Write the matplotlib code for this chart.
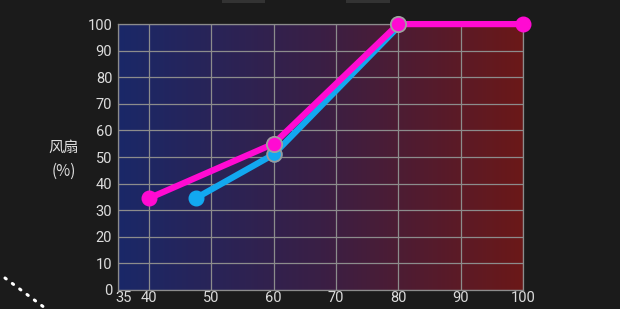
import matplotlib
matplotlib.use("Agg")
import matplotlib.pyplot as plt
import numpy as np
from matplotlib.colors import LinearSegmentedColormap
from matplotlib.lines import Line2D
from matplotlib.patches import Rectangle
import matplotlib.transforms as mtransforms

plt.rcParams['font.family'] = ['Roboto', 'Noto Sans CJK SC', 'DejaVu Sans']

# fan curve data
blue_x = [47.5, 60, 80]
blue_y = [34.5, 51, 99]
pink_x = [40, 60, 80, 100]
pink_y = [34.5, 55, 100, 100]
x_ticks = [35, 40, 50, 60, 70, 80, 90, 100]
y_ticks = list(range(0, 101, 10))
ylabel = "风扇\n(%)"

bg = '#1b1b1b'
fig = plt.figure(figsize=(6.2, 3.09), dpi=100, facecolor=bg)
ax = fig.add_axes([0.19, 0.0615, 0.6535, 0.8605])
ax.set_facecolor(bg)

# gradient background blue -> red
cmap = LinearSegmentedColormap.from_list('grad', ['#1a2868', '#3a1f45', '#6b1818'])
grad = np.linspace(0, 1, 256).reshape(1, -1)
ax.imshow(grad, cmap=cmap, aspect='auto', extent=[35, 100, 0, 100], zorder=0)

ax.set_xlim(35, 100)
ax.set_ylim(0, 100)
ax.set_xticks(x_ticks)
ax.set_yticks(y_ticks)
ax.grid(True, color='#8c8c8c', lw=0.9, zorder=1)
for s in ax.spines.values():
    s.set_color('#8c8c8c')
    s.set_linewidth(0.9)
ax.tick_params(colors='#dcdcdc', labelsize=10.5, length=0)
ax.tick_params(axis='y', pad=4)
ax.tick_params(axis='x', pad=1)

# nudge the "35" label right so it clears the y "0"
lbl35 = ax.get_xticklabels()[0]
lbl35.set_transform(lbl35.get_transform() + mtransforms.ScaledTranslation(6/100, 0, fig.dpi_scale_trans))

ax.plot(blue_x, blue_y, color='#12a8f0', lw=4.5, solid_capstyle='round', zorder=3)
ax.plot(blue_x[:2], blue_y[:2], 'o', color='#12a8f0', ms=10.5, zorder=3)
ax.plot([blue_x[1]], [blue_y[1]], 'o', color='#12a8f0', ms=10.5, mec='#9a9a9a', mew=1.3, zorder=3)

ax.plot(pink_x, pink_y, color='#ff0ad2', lw=4.5, solid_capstyle='round', zorder=4)
ax.plot([pink_x[0], pink_x[3]], [pink_y[0], pink_y[3]], 'o', color='#ff0ad2', ms=10.5, zorder=4)
ax.plot(pink_x[1:3], pink_y[1:3], 'o', color='#ff0ad2', ms=11, mec='#a0a0a0', mew=1.3, zorder=4)
for a in ax.lines:
    a.set_clip_on(False)

fig.text(0.103, 0.485, ylabel, color='#dcdcdc', fontsize=11, ha='center', va='center',
         linespacing=1.5, family=['Noto Sans CJK SC', 'DejaVu Sans'])

# decorations
fig.add_artist(Line2D([5/620, 45/620], [1-278/309, 1-308/309], color='white',
                      lw=2.2, ls=(0, (0.5, 2.5)), dash_capstyle='round'))
fig.add_artist(Rectangle((222/620, 1-3/309), 43/620, 3/309, color='#333333', lw=0))
fig.add_artist(Rectangle((346/620, 1-3/309), 44/620, 3/309, color='#333333', lw=0))

fig.savefig('out.png', dpi=100, facecolor=bg)
